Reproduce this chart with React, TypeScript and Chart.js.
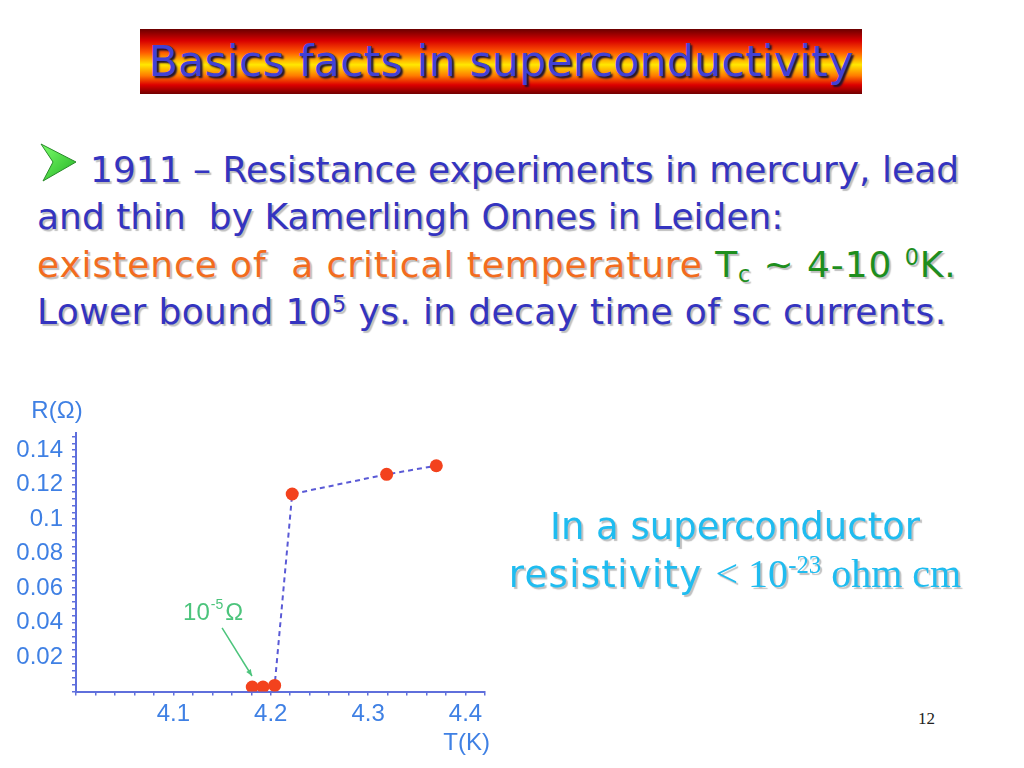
import React, { useEffect, useRef } from "react";
import { Chart, registerables } from "chart.js";

Chart.register(...registerables);

// ---------- data ----------
const temperatureK = [4.181, 4.192, 4.204, 4.222, 4.319, 4.37];
const resistanceOhm = [0.0026, 0.0026, 0.0035, 0.1146, 0.126, 0.131];
const xTickLabels = ["4.1", "4.2", "4.3", "4.4"];
const yTickLabels = ["0.02", "0.04", "0.06", "0.08", "0.1", "0.12", "0.14"];
const xRange = [4.0, 4.42];
const yRange = [0, 0.15];
const xMinorStep = 0.02;
const yMinorStep = 0.004;
const xAxisTitle = "T(K)";
const yAxisTitle = "R(Ω)";
const annotationParts = ["10", "-5", "Ω"];
const annotationLabelAt = [4.11, 0.0415];
const annotationArrowFrom = [4.15, 0.0369];
const annotationArrowTo = [4.1807, 0.009];

// ---------- styles ----------
const TICK_COLOR = "#3f80e4";
const AXIS_COLOR = "#5f6fdc";
const LINE_COLOR = "#5a5ad6";
const POINT_COLOR = "#f3421d";
const NOTE_COLOR = "#4cc47c";
const CHART_FONT = '"Liberation Sans", Arial, sans-serif';

function stepsBetween(min: number, max: number, step: number): number[] {
  const out: number[] = [];
  const n = Math.round((max - min) / step);
  for (let i = 0; i <= n; i++) out.push(+(min + i * step).toFixed(6));
  return out;
}

function labelFor(list: string[], v: number): string {
  const hit = list.find((l) => Math.abs(parseFloat(l) - v) < 1e-6);
  return hit ?? "";
}

const annotationPlugin = {
  id: "slideAnnotations",
  afterDraw(chart: any) {
    const { ctx, chartArea } = chart;
    const x = chart.scales.x;
    const y = chart.scales.y;
    ctx.save();
    // axis titles
    ctx.fillStyle = TICK_COLOR;
    ctx.font = `24px ${CHART_FONT}`;
    ctx.textBaseline = "alphabetic";
    ctx.textAlign = "center";
    ctx.fillText(yAxisTitle, chartArea.left - 19, chartArea.top - 15);
    ctx.textAlign = "right";
    ctx.fillText(xAxisTitle, chartArea.right + 5, chartArea.bottom + 58);

    // 10^-5 Ω note
    ctx.fillStyle = NOTE_COLOR;
    ctx.textAlign = "left";
    let px = x.getPixelForValue(annotationLabelAt[0]);
    const py = y.getPixelForValue(annotationLabelAt[1]);
    ctx.font = `24px ${CHART_FONT}`;
    ctx.fillText(annotationParts[0], px, py);
    px += ctx.measureText(annotationParts[0]).width + 1;
    ctx.font = `14px ${CHART_FONT}`;
    ctx.fillText(annotationParts[1], px, py - 11);
    px += ctx.measureText(annotationParts[1]).width + 2;
    ctx.font = `24px ${CHART_FONT}`;
    ctx.fillText(annotationParts[2], px, py);

    // arrow
    const x1 = x.getPixelForValue(annotationArrowFrom[0]);
    const y1 = y.getPixelForValue(annotationArrowFrom[1]);
    const x2 = x.getPixelForValue(annotationArrowTo[0]);
    const y2 = y.getPixelForValue(annotationArrowTo[1]);
    ctx.strokeStyle = NOTE_COLOR;
    ctx.lineWidth = 1.5;
    ctx.beginPath();
    ctx.moveTo(x1, y1);
    ctx.lineTo(x2, y2);
    ctx.stroke();
    const ang = Math.atan2(y2 - y1, x2 - x1);
    const head = 7;
    ctx.beginPath();
    ctx.moveTo(x2, y2);
    ctx.lineTo(x2 - head * Math.cos(ang - 0.4), y2 - head * Math.sin(ang - 0.4));
    ctx.lineTo(x2 - head * Math.cos(ang + 0.4), y2 - head * Math.sin(ang + 0.4));
    ctx.closePath();
    ctx.fillStyle = NOTE_COLOR;
    ctx.fill();
    ctx.restore();
  },
};

function ResistanceChart() {
  const ref = useRef<HTMLCanvasElement>(null);
  useEffect(() => {
    const canvas = ref.current;
    if (!canvas) return;
    const xTicks = stepsBetween(xRange[0], xRange[1], xMinorStep);
    const yTicks = stepsBetween(yRange[0], 0.148, yMinorStep);
    const chart = new Chart(canvas, {
      type: "scatter",
      data: {
        datasets: [
          {
            data: temperatureK.map((t, i) => ({ x: t, y: resistanceOhm[i] })),
            showLine: true,
            borderColor: LINE_COLOR,
            borderWidth: 2,
            borderDash: [5, 4],
            pointRadius: 6.5,
            pointBackgroundColor: POINT_COLOR,
            pointBorderColor: POINT_COLOR,
            pointBorderWidth: 0,
          },
        ],
      },
      options: {
        responsive: false,
        animation: false,
        devicePixelRatio: 1,
        layout: { padding: { left: 0, top: 53, right: 15, bottom: 0 } },
        plugins: { legend: { display: false }, tooltip: { enabled: false } },
        scales: {
          x: {
            type: "linear",
            min: xRange[0],
            max: xRange[1],
            afterBuildTicks: (s: any) => {
              s.ticks = xTicks.map((v) => ({ value: v }));
            },
            afterFit: (s: any) => {
              s.height = 68.5;
            },
            grid: { drawOnChartArea: false, drawTicks: true, tickLength: 4, color: AXIS_COLOR, lineWidth: 1.5 },
            border: { color: AXIS_COLOR, width: 2 },
            ticks: {
              autoSkip: false,
              maxRotation: 0,
              padding: 4,
              color: TICK_COLOR,
              font: { family: CHART_FONT, size: 24 },
              callback: (v: any) => labelFor(xTickLabels, Number(v)),
            },
          },
          y: {
            type: "linear",
            min: yRange[0],
            max: yRange[1],
            afterBuildTicks: (s: any) => {
              s.ticks = yTicks.map((v) => ({ value: v }));
            },
            afterFit: (s: any) => {
              s.width = 76;
            },
            grid: { drawOnChartArea: false, drawTicks: true, tickLength: 4, color: AXIS_COLOR, lineWidth: 1.5 },
            border: { color: AXIS_COLOR, width: 2 },
            ticks: {
              autoSkip: false,
              padding: 9,
              color: TICK_COLOR,
              font: { family: CHART_FONT, size: 24 },
              callback: (v: any) => labelFor(yTickLabels, Number(v)),
            },
          },
        },
      },
      plugins: [annotationPlugin],
    } as any);
    return () => chart.destroy();
  }, []);
  return <canvas ref={ref} width={500} height={380} style={{ display: "block", width: 500, height: 380 }} />;
}

const BODY_FONT = '"DejaVu Sans", Verdana, sans-serif';
const SERIF_FONT = '"Liberation Serif", "Times New Roman", serif';
const BLUE = "#3434c0";
const ORANGE = "#f26c1e";
const GREEN = "#1e8e1e";
const CYAN = "#1fbcf0";
const SHADOW = "2px 2px 1px rgba(0,0,0,0.25)";

const lineStyle = (top: number, left: number, spacing: number): React.CSSProperties => ({
  position: "absolute",
  top,
  left,
  fontFamily: BODY_FONT,
  fontSize: 36,
  lineHeight: "36px",
  letterSpacing: spacing,
  whiteSpace: "pre",
  color: BLUE,
  textShadow: SHADOW,
});

const supStyle: React.CSSProperties = { fontSize: "0.62em", verticalAlign: "0.55em", lineHeight: 0 };
const subStyle: React.CSSProperties = { fontSize: "0.62em", verticalAlign: "-0.22em", lineHeight: 0 };

export default function App() {
  return (
    <div
      style={{
        position: "fixed",
        left: 0,
        top: 0,
        width: 1024,
        height: 768,
        background: "#ffffff",
        overflow: "hidden",
      }}
    >
      {/* Title bar */}
      <div
        style={{
          position: "absolute",
          left: 140,
          top: 29,
          width: 722,
          height: 65,
          background:
            "linear-gradient(to bottom, #6a0000 0%, #d80000 18%, #ff5a00 36%, #ffe800 55%, #ff7a00 72%, #dd0000 86%, #700000 100%)",
          display: "flex",
          alignItems: "center",
          justifyContent: "center",
        }}
      >
        <span
          style={{
            fontFamily: BODY_FONT,
            fontSize: 43,
            lineHeight: "43px",
            color: "#4141d6",
            textShadow: "2px 2px 2px #1a1030",
            whiteSpace: "pre",
          }}
        >
          Basics facts in superconductivity
        </span>
      </div>

      {/* Bullet arrow */}
      <svg style={{ position: "absolute", left: 40, top: 143 }} width={38} height={40} viewBox="0 0 38 40">
        <defs>
          <linearGradient id="bg" x1="0" y1="0" x2="1" y2="1">
            <stop offset="0" stopColor="#7cff6c" />
            <stop offset="1" stopColor="#22b022" />
          </linearGradient>
        </defs>
        <polygon points="1,1 36,19 3,38 13,19" fill="url(#bg)" stroke="#2a8a2a" strokeWidth={1} />
      </svg>

      <div style={lineStyle(152, 90, 0)}>1911 – Resistance experiments in mercury, lead</div>
      <div style={lineStyle(199, 37, 0)}>and thin  by Kamerlingh Onnes in Leiden:</div>
      <div style={lineStyle(247, 37, 0.9)}>
        <span style={{ color: ORANGE }}>existence of  a critical temperature</span>
        <span style={{ color: GREEN }}>
          {" T"}
          <span style={subStyle}>c</span>
          {" ~ 4-10 "}
          <span style={supStyle}>0</span>
          {"K."}
        </span>
      </div>
      <div style={lineStyle(294, 37, 0.37)}>
        {"Lower bound 10"}
        <span style={supStyle}>5</span>
        {" ys. in decay time of sc currents."}
      </div>

      {/* Chart */}
      <div style={{ position: "absolute", left: 0, top: 380 }}>
        <ResistanceChart />
      </div>

      {/* Right text */}
      <div
        style={{
          position: "absolute",
          left: 485,
          top: 503,
          width: 500,
          textAlign: "center",
          fontFamily: BODY_FONT,
          fontSize: 37,
          lineHeight: "47px",
          color: CYAN,
          textShadow: SHADOW,
          whiteSpace: "pre",
        }}
      >
        <div>In a superconductor</div>
        <div>
          <span style={{ letterSpacing: 1.3 }}>{"resistivity "}</span>
          <span style={{ fontFamily: SERIF_FONT, fontSize: 40 }}>
            {"< 10"}
            <span style={supStyle}>-23</span>
            {" ohm cm"}
          </span>
        </div>
      </div>

      {/* Page number */}
      <div
        style={{
          position: "absolute",
          left: 918,
          top: 709,
          fontFamily: SERIF_FONT,
          fontSize: 17,
          lineHeight: "20px",
          color: "#222",
        }}
      >
        12
      </div>
    </div>
  );
}
